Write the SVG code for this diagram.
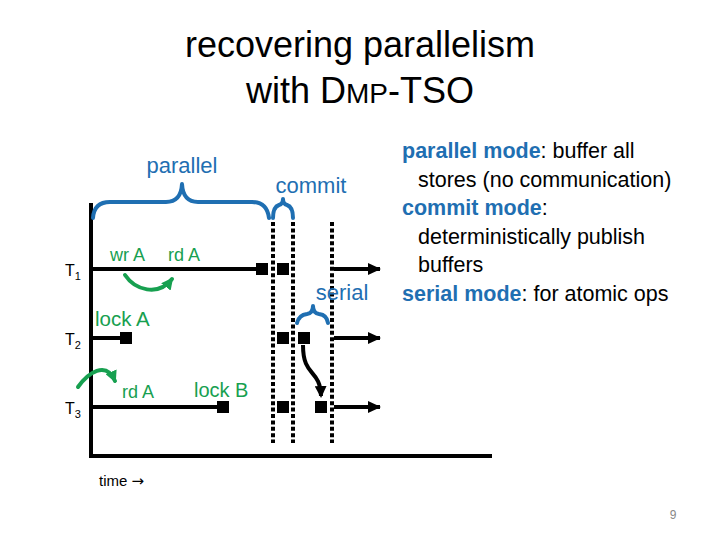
<svg xmlns="http://www.w3.org/2000/svg" width="720" height="540" viewBox="0 0 720 540">
<style>
text{font-family:"Liberation Sans",Arial,sans-serif}
.title{font-size:36px;fill:#000;text-anchor:middle}
.blue{fill:#1f6fb2}
.green{fill:#17a050}
.lbl{font-size:22px}
.brace{fill:none;stroke:#1f6fb2;stroke-width:4;stroke-linecap:round;stroke-linejoin:round}
.ln{stroke:#000;stroke-width:4;fill:none}
.dot{stroke:#000;stroke-width:4;stroke-dasharray:4 2.4;fill:none}
.sq{fill:#000}
.garr{fill:none;stroke:#17a050;stroke-width:4;stroke-linecap:round}
.desc{font-size:21.5px;fill:#000}
.b{font-weight:bold;fill:#1f6fb2}
</style>
<defs>
<marker id="ah" markerUnits="userSpaceOnUse" markerWidth="14" markerHeight="12" refX="12" refY="6" orient="auto"><path d="M0,0 L13,6 L0,12 Z" fill="#000"/></marker>
<marker id="ahg" markerUnits="userSpaceOnUse" markerWidth="14" markerHeight="12" refX="10" refY="6" orient="auto"><path d="M0,0 L12,6 L0,12 Z" fill="#17a050"/></marker>
<marker id="ahb" markerUnits="userSpaceOnUse" markerWidth="14" markerHeight="12" refX="10" refY="6" orient="auto"><path d="M0,0 L12,6 L0,12 Z" fill="#000"/></marker>
</defs>

<g id="title">
<text class="title" x="360" y="57">recovering parallelism</text>
<text class="title" x="360" y="103">with D<tspan font-size="28">MP</tspan>-TSO</text>
</g>

<g id="axes">
<path class="ln" d="M91,203 L91,456 L492,456"/>
</g>

<g id="threads">
<g id="T1">
<text x="65" y="276" font-size="16">T<tspan font-size="11" dy="4">1</tspan></text>
<path class="ln" d="M91,269 L257,269"/>
<rect class="sq" x="256" y="263" width="12" height="12"/>
<rect class="sq" x="277" y="263" width="12" height="12"/>
</g>
<g id="T2">
<text x="65" y="345" font-size="16">T<tspan font-size="11" dy="4">2</tspan></text>
<path class="ln" d="M91,338 L121,338"/>
<rect class="sq" x="120" y="332" width="12" height="12"/>
<rect class="sq" x="277" y="332" width="12" height="12"/>
<rect class="sq" x="298" y="332" width="12" height="12"/>
</g>
<g id="T3">
<text x="65" y="414" font-size="16">T<tspan font-size="11" dy="4">3</tspan></text>
<path class="ln" d="M91,407 L218,407"/>
<rect class="sq" x="217" y="401" width="12" height="12"/>
<rect class="sq" x="277" y="401" width="12" height="12"/>
<rect class="sq" x="315" y="401" width="12" height="12"/>
</g>
</g>

<g id="phases">
<path class="dot" d="M273,222 L273,443"/>
<path class="dot" d="M293,222 L293,443"/>
<path class="dot" d="M332,222 L332,443"/>
<path class="brace" d="M93,218 Q94,202 110,202 L166,202 Q181,202 182,184 Q183,202 198,202 L252,202 Q267,202 269,218"/>
<path class="brace" d="M273,218 Q273,207 279,205 Q283,204 283,199 Q283,204 287,205 Q293,207 293,218"/>
<path class="brace" d="M297,323 Q299,315 307,314 Q313,313 313,306 Q313,313 319,314 Q327,315 328,323"/>
<text class="blue lbl" x="182" y="173" text-anchor="middle">parallel</text>
<text class="blue lbl" x="311" y="193" text-anchor="middle">commit</text>
<text class="blue lbl" x="342" y="300" text-anchor="middle">serial</text>
</g>

<g id="labels">
<text class="green" x="110" y="261" font-size="18">wr A</text>
<text class="green" x="168" y="261" font-size="18">rd A</text>
<text class="green" x="95" y="326" font-size="20.5">lock A</text>
<text class="green" x="122" y="398" font-size="18">rd A</text>
<text class="green" x="194" y="397" font-size="20">lock B</text>
</g>

<g id="connectors">
<path class="ln" d="M334,269 L380,269" marker-end="url(#ah)"/>
<path class="ln" d="M334,338 L380,338" marker-end="url(#ah)"/>
<path class="ln" d="M334,407 L380,407" marker-end="url(#ah)"/>
<path class="garr" d="M125,275 C135,290 158,297 172,279" marker-end="url(#ahg)"/>
<path class="garr" d="M78,387 C88,373 106,360 115,381" marker-end="url(#ahg)"/>
<path class="ln" d="M303,345 C303,378 320,368 321,396" marker-end="url(#ahb)"/>
</g>

<g id="description">
<text class="desc" x="402" y="158"><tspan class="b">parallel mode</tspan>: buffer all</text>
<text class="desc" x="418" y="187">stores (no communication)</text>
<text class="desc" x="402" y="215"><tspan class="b">commit mode</tspan>:</text>
<text class="desc" x="418" y="244">deterministically publish</text>
<text class="desc" x="418" y="272">buffers</text>
<text class="desc" x="402" y="301"><tspan class="b">serial mode</tspan>: for atomic ops</text>
</g>

<g id="footer">
<text x="99" y="486" font-size="15">time <tspan font-family="'DejaVu Sans',sans-serif" font-size="15">→</tspan></text>
<text x="673" y="519" font-size="12" fill="#888" text-anchor="middle">9</text>
</g>
</svg>
